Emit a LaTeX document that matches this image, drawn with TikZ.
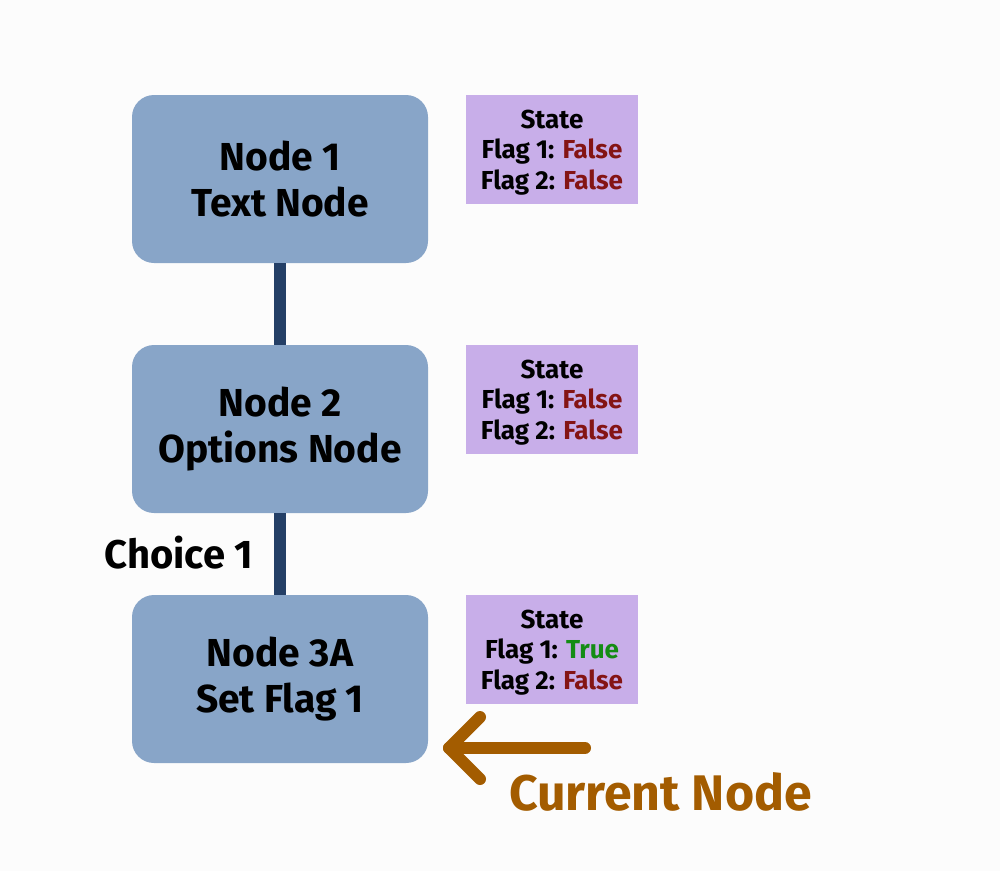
\documentclass[tikz,border=0pt]{standalone}
\usepackage{fontspec}
\setmainfont{Fira Sans}
\usetikzlibrary{positioning,calc}
\definecolor{bg}{HTML}{FCFCFC}
\definecolor{nodefill}{HTML}{88A5C8}
\definecolor{linkcol}{HTML}{243F66}
\definecolor{statefill}{HTML}{C8AEE9}
\definecolor{falsecol}{HTML}{841414}
\definecolor{truecol}{HTML}{148C14}
\definecolor{curcol}{HTML}{A35C00}
\newcommand{\FalseTxt}{\textcolor{falsecol}{False}}
\newcommand{\TrueTxt}{\textcolor{truecol}{True}}
\newcommand{\topstrut}{\rule{0pt}{24.5pt}}
\begin{document}
\begin{tikzpicture}[x=1pt,y=-1pt,
  mainbox/.style={draw=none, fill=nodefill, rounded corners=22pt, minimum width=296pt, minimum height=168pt, align=center, inner sep=0pt,
    font=\fontsize{39}{46}\selectfont\bfseries},
  statebox/.style={draw=none, fill=statefill, minimum width=172pt, minimum height=109pt, align=center, inner sep=0pt,
    font=\fontsize{26}{30.5}\selectfont\bfseries},
  link/.style={draw=linkcol, line width=12pt},
  curarrow/.style={draw=curcol, line width=12pt, line cap=round, line join=round}]
\fill[bg] (0,0) rectangle (1000,871);
\useasboundingbox (0,0) rectangle (1000,871);
\node[mainbox] (n1) at (280,179) {Node 1\\Text Node};
\node[mainbox] (n2) at (280,429) {Node 2\\Options Node};
\node[mainbox] (n3) at (280,679) {Node 3A\\Set Flag 1};
\draw[link] (n1.south) -- (n2.north);
\draw[link] (n2.south) -- (n3.north);
\node[statebox] (s1) at (552,149.5) {\topstrut State\\Flag 1: \FalseTxt\\Flag 2: \FalseTxt};
\node[statebox] (s2) at (552,399.5) {\topstrut State\\Flag 1: \FalseTxt\\Flag 2: \FalseTxt};
\node[statebox] (s3) at (552,649.5) {\topstrut State\\Flag 1: \TrueTxt\\Flag 2: \FalseTxt};
\node[font=\fontsize{40}{44}\selectfont\bfseries, anchor=center] (c1) at (179,553) {Choice 1};
\coordinate (tail) at (585,748);
\coordinate (tip) at (449,748);
\draw[curarrow] (tail) -- (tip);
\draw[curarrow] ($(tip)+(31,-31)$) -- (tip) -- ($(tip)+(31,31)$);
\node[font=\fontsize{50}{56}\selectfont\bfseries, text=curcol] (cur) at (660.5,792) {Current Node};
\end{tikzpicture}
\end{document}
